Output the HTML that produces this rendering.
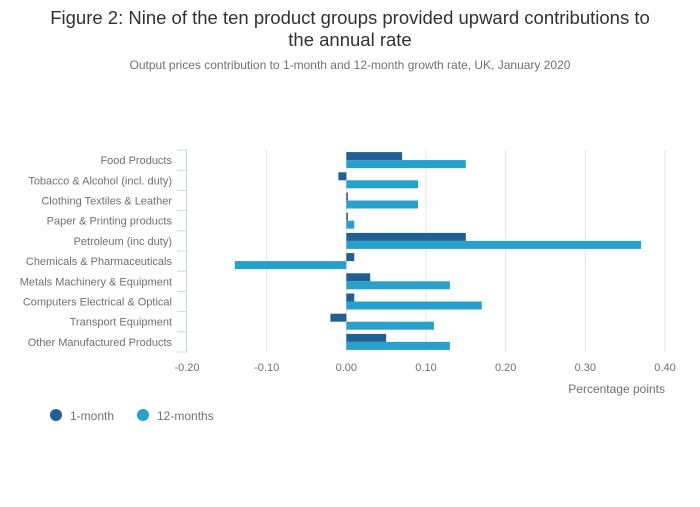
<!DOCTYPE html>
<html><head><meta charset="utf-8"><style>
body{margin:0;background:#fff;font-family:"Liberation Sans",sans-serif}
svg text{font-family:"Liberation Sans",sans-serif}
</style></head><body>
<svg id="c" width="700" height="502">
<text x="350" y="24" text-anchor="middle" font-size="18.5" fill="#323132">Figure 2: Nine of the ten product groups provided upward contributions to</text>
<text x="350" y="46" text-anchor="middle" font-size="18.5" fill="#323132">the annual rate</text>
<text x="350" y="69" text-anchor="middle" font-size="12" fill="#707071">Output prices contribution to 1-month and 12-month growth rate, UK, January 2020</text>
<g id="plot"></g>
<text x="665" y="393" text-anchor="end" font-size="12" fill="#707071">Percentage points</text>
<g>
<circle cx="56" cy="415" r="6" fill="#206095"/>
<text x="70" y="420" font-size="12" fill="#707071">1-month</text>
<circle cx="143" cy="415" r="6" fill="#27a0cc"/>
<text x="157" y="420" font-size="12" fill="#707071">12-months</text>
</g>
</svg>
<script>
const categories=["Food Products","Tobacco & Alcohol (incl. duty)","Clothing Textiles & Leather","Paper & Printing products","Petroleum (inc duty)","Chemicals & Pharmaceuticals","Metals Machinery & Equipment","Computers Electrical & Optical","Transport Equipment","Other Manufactured Products"];
const oneMonth=[0.07,-0.01,0.002,0.002,0.15,0.01,0.03,0.01,-0.02,0.05];
const twelveMonths=[0.15,0.09,0.09,0.01,0.37,-0.14,0.13,0.17,0.11,0.13];
const xTicks=[-0.2,-0.1,0,0.1,0.2,0.3,0.4];
const xTickLabels=["-0.20","-0.10","0.00","0.10","0.20","0.30","0.40"];
const NS="http://www.w3.org/2000/svg";
const g=document.getElementById('plot');
const x0=187,x1=665,yTop=150,yBot=352;
const xs=v=>x0+(v-(-0.2))/(0.6)*(x1-x0);
const rowH=(yBot-yTop)/categories.length;
function mk(t,a){const e=document.createElementNS(NS,t);for(const k in a)e.setAttribute(k,a[k]);g.appendChild(e);return e;}
xTicks.forEach((t,i)=>{
 if(t!==-0.2){const l=mk('line',{x1:xs(t),x2:xs(t),y1:yTop,y2:yBot,stroke:'#e4e4e4','stroke-width':1});
 
 }
 const tx=mk('text',{x:xs(t),y:371,'text-anchor':'middle','font-size':11,fill:'#707071'});tx.textContent=xTickLabels[i];
 
 
});
const ax=mk('line',{x1:x0-0.5,x2:x0-0.5,y1:yTop,y2:yBot,stroke:'#ccd6eb'});


for(let i=0;i<=categories.length;i++){
 const y=yTop+i*rowH;
 const tk=mk('line',{x1:177,x2:187,y1:y,y2:y,stroke:'#ccd6eb'});
 
 
}
categories.forEach((c,i)=>{
 const yc=yTop+i*rowH+rowH/2;
 const t=mk('text',{x:172,y:yc+4,'text-anchor':'end','font-size':11,fill:'#707071'});t.textContent=c;
 
 
 const z=xs(0);
 let v=oneMonth[i];
 const b1=mk('rect',{x:Math.min(z,xs(v)),y:yc-8,width:Math.max(1,Math.abs(xs(v)-z)),height:8,fill:'#206095'});
 
 
 v=twelveMonths[i];
 const b2=mk('rect',{x:Math.min(z,xs(v)),y:yc,width:Math.max(1,Math.abs(xs(v)-z)),height:8,fill:'#27a0cc'});
 
 
});
</script>
</body></html>
